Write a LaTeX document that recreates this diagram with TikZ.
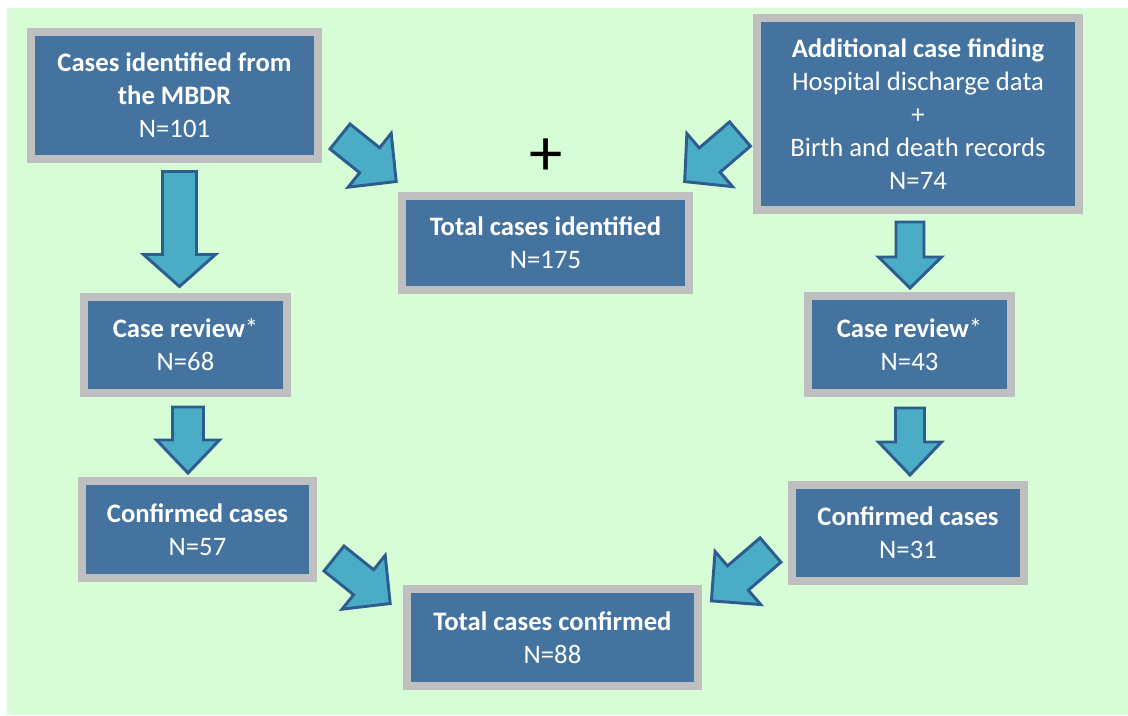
\documentclass[tikz,border=0pt]{standalone}
\usepackage{fontspec}
\setmainfont{Carlito}
\definecolor{bggreen}{RGB}{215,253,215}
\definecolor{boxblue}{RGB}{68,115,160}
\definecolor{boxgray}{RGB}{191,191,191}
\definecolor{arrowfill}{RGB}{75,172,198}
\definecolor{arrowline}{RGB}{45,92,143}
\tikzset{
  box/.style={draw=boxgray, line width=6pt, fill=boxblue, text=white, align=center,
    inner sep=0pt, font=\fontsize{20pt}{24.75pt}\selectfont},
  blockarrow/.style={draw=arrowline, fill=arrowfill, line width=2.2pt, line join=miter}
}
% block arrow: tail, angle, length, half shaft, half head, head length
\newcommand{\blockarr}[6]{%
  \draw[blockarrow, shift={(#1)}, rotate=#2] (0,-#4) -- ({#3-#6},-#4) -- ({#3-#6},-#5)
    -- (#3,0) -- ({#3-#6},#5) -- ({#3-#6},#4) -- (0,#4) -- cycle;}

\begin{document}
\begin{tikzpicture}[x=0.75pt, y=-0.75pt]
  \useasboundingbox (0,0) rectangle (1128,715);
  \fill[bggreen] (7,8) rectangle (1128,715);

  % Case finding
  \node[box, minimum width=215.25pt, minimum height=95.25pt] (mbdr) at (174.5,95.5)
    {\textbf{Cases identified from}\\\textbf{the MBDR}\\N=101};
  \node[box, minimum width=241.5pt, minimum height=144pt] (addl) at (918,114)
    {\textbf{Additional case finding}\\Hospital discharge data\\+\\Birth and death records\\N=74};
  \node[box, minimum width=215.25pt, minimum height=70.5pt] (ident) at (545.5,243)
    {\textbf{Total cases identified}\\N=175};
  \node[font=\fontsize{50pt}{50pt}\selectfont] (plus) at (546,157) {+};

  % Review
  \node[box, minimum width=152.25pt, minimum height=72pt] (revL) at (185.5,345)
    {\textbf{Case review}*\\N=68};
  \node[box, minimum width=152.25pt, minimum height=72.75pt] (revR) at (909.5,344.5)
    {\textbf{Case review}*\\N=43};

  % Confirmed
  \node[box, minimum width=173.25pt, minimum height=72.75pt] (confL) at (197.5,529.5)
    {\textbf{Confirmed cases}\\N=57};
  \node[box, minimum width=174pt, minimum height=72pt] (confR) at (908,533)
    {\textbf{Confirmed cases}\\N=31};
  \node[box, minimum width=218.25pt, minimum height=72.75pt] (total) at (552.5,637.5)
    {\textbf{Total cases confirmed}\\N=88};

  % Arrows
  \blockarr{340,136.5}{-38.7}{72}{16}{34.5}{34}
  \blockarr{740,134}{-139.3}{73}{16}{35}{33}
  \blockarr{334,558.5}{-38.7}{72}{16}{34.5}{34}
  \blockarr{770.5,550}{-139.3}{78}{16}{35}{35}
  \blockarr{179.5,171.5}{-90}{115}{17}{36}{32}
  \blockarr{910,222}{-90}{66}{14}{31.5}{31}
  \blockarr{188,407}{-90}{66}{15.5}{31.5}{33}
  \blockarr{910,408}{-90}{67}{14.5}{31.5}{33}
\end{tikzpicture}
\end{document}
